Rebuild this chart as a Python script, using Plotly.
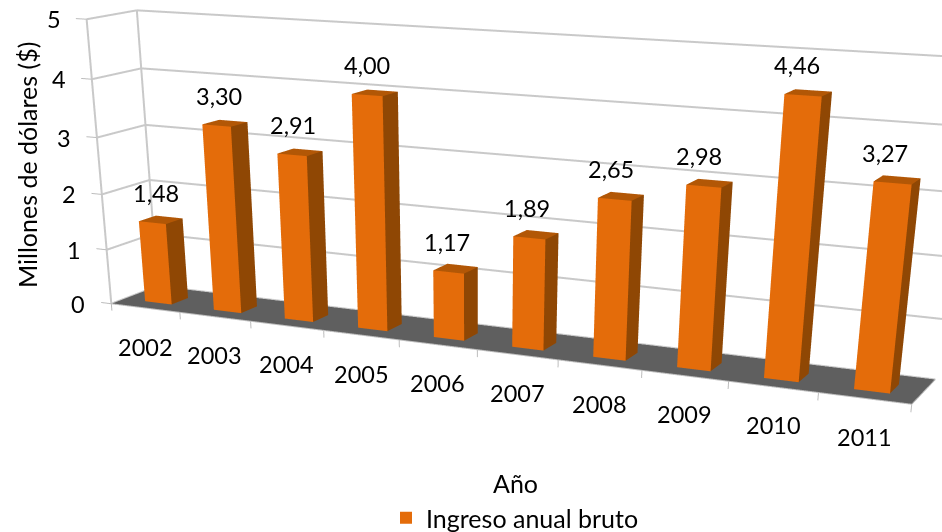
import plotly.graph_objects as go

years = ["2002", "2003", "2004", "2005", "2006", "2007", "2008", "2009", "2010", "2011"]
ingreso = [1.48, 3.30, 2.91, 4.00, 1.17, 1.89, 2.65, 2.98, 4.46, 3.27]
value_ticks = [0, 1, 2, 3, 4, 5]

FONT = "Lato"
NUM_SIZE = 23.5
WORD_SIZE = 25
TEXT = "#000000"
FRONT = "#E46C0A"
SIDE = "#8F4704"
TOP = "#B25706"
FLOOR = "#5F5F5F"
GRID = "#C9C9C9"

# The figure is taller than the window on purpose: plotly's field of view is fixed,
# so the flat perspective of the original needs a large viewport. Only the top shows.
FIG_W = 942
FIG_H = 1613
n = len(years)


def paper_y(px):
    return 1 - px / FIG_H


# bars as one mesh, only the three faces you can see
vx, vy, vz, ti, tj, tk, colors = [], [], [], [], [], [], []


def add_quad(corners, color):
    start = len(vx)
    for cx, cy, cz in corners:
        vx.append(cx)
        vy.append(cy)
        vz.append(cz)
    ti.extend([start, start])
    tj.extend([start + 1, start + 2])
    tk.extend([start + 2, start + 3])
    colors.extend([color, color])


for pos, val in enumerate(ingreso):
    x0, x1 = pos + 0.305, pos + 0.695
    y0, y1 = 0.28, 0.64
    add_quad([(x0, y0, 0), (x1, y0, 0), (x1, y0, val), (x0, y0, val)], FRONT)
    add_quad([(x1, y0, 0), (x1, y1, 0), (x1, y1, val), (x1, y0, val)], SIDE)
    add_quad([(x0, y0, val), (x1, y0, val), (x1, y1, val), (x0, y1, val)], TOP)

flat = dict(ambient=1, diffuse=0, specular=0, roughness=1, fresnel=0)

fig = go.Figure()

# floor
fig.add_trace(go.Mesh3d(
    x=[0, n, n, 0], y=[0, 0, 1, 1], z=[0, 0, 0, 0],
    i=[0, 0], j=[1, 2], k=[2, 3],
    color=FLOOR, flatshading=True, lighting=flat, hoverinfo="skip", showlegend=False,
))

# walls: gridlines around the left and back side
gx, gy, gz = [], [], []
for v in value_ticks:
    gx += [0, 0, n, None]
    gy += [0, 1, 1, None]
    gz += [v, v, v, None]
gx += [0, 0, None, 0, 0, None]
gy += [0, 0, None, 1, 1, None]
gz += [0, 5, None, 0, 5, None]
fig.add_trace(go.Scatter3d(
    x=gx, y=gy, z=gz, mode="lines", line=dict(color=GRID, width=4),
    hoverinfo="skip", showlegend=False, connectgaps=False,
))

# tick marks and the pale rim of the floor
kx, ky, kz = [], [], []
for pos in range(n + 1):
    kx += [pos, pos, None]
    ky += [0, 0, None]
    kz += [0, -0.13, None]
for v in value_ticks:
    kx += [0, -0.15, None]
    ky += [0, 0, None]
    kz += [v, v, None]
kx += [0, n, n]
ky += [0, 0, 1]
kz += [0, 0, 0]
fig.add_trace(go.Scatter3d(
    x=kx, y=ky, z=kz, mode="lines", line=dict(color="#BDBDBD", width=2),
    hoverinfo="skip", showlegend=False,
))

fig.add_trace(go.Mesh3d(
    x=vx, y=vy, z=vz, i=ti, j=tj, k=tk, facecolor=colors,
    flatshading=True, lighting=flat, hoverinfo="skip", showlegend=False,
))

# legend entry only
fig.add_trace(go.Scatter3d(
    x=[None], y=[None], z=[None], mode="markers", name="Ingreso anual bruto",
    marker=dict(symbol="square", size=13, color=FRONT), showlegend=True,
))

num_font = dict(family=FONT, size=NUM_SIZE, color=TEXT)
word_font = dict(family=FONT, size=WORD_SIZE, color=TEXT)
scene_notes = []
for pos, val in enumerate(ingreso):
    # excel drifts its labels left of the bars towards the near end
    scene_notes.append(dict(
        x=pos + 0.5, y=0.28, z=val, text=f"{val:.2f}".replace(".", ","),
        showarrow=False, yshift=30, xshift=4 - 1.3 * pos, font=num_font,
    ))
    scene_notes.append(dict(
        x=pos + 0.5, y=0, z=0, text=years[pos],
        showarrow=False, yshift=-38.5, font=num_font,
    ))
for v in value_ticks:
    scene_notes.append(dict(
        x=0, y=0, z=v, text=str(v),
        showarrow=False, xshift=-33, font=num_font,
    ))

hidden = dict(visible=False, showgrid=False, zeroline=False, showticklabels=False,
              showspikes=False, autorange=False)

fig.update_layout(
    width=FIG_W,
    height=FIG_H,
    margin=dict(l=0, r=0, t=0, b=0),
    paper_bgcolor="white",
    font=word_font,
    showlegend=True,
    legend=dict(x=386 / FIG_W, y=paper_y(518), xanchor="left", yanchor="middle",
                bgcolor="rgba(0,0,0,0)", font=word_font, itemsizing="constant"),
    scene=dict(
        domain=dict(x=[0, 1], y=[0, 1]),
        bgcolor="white",
        xaxis=dict(range=[-0.2, 10.2], **hidden),
        yaxis=dict(range=[0, 1], **hidden),
        zaxis=dict(range=[-0.2, 5.2], **hidden),
        aspectmode="manual",
        aspectratio=dict(x=3.0513, y=0.301, z=1.03846),
        camera=dict(
            eye=dict(x=2.7508, y=-5.9882, z=1.2395),
            center=dict(x=0.4996, y=-1.2512, z=-1.5644),
            up=dict(x=0, y=0, z=1),
        ),
        annotations=scene_notes,
    ),
    annotations=[
        dict(x=515 / FIG_W, y=paper_y(483), xref="paper", yref="paper", text="Año",
             xanchor="center", yanchor="middle", showarrow=False, font=word_font),
        dict(x=27 / FIG_W, y=paper_y(165), xref="paper", yref="paper", text="Millones de dólares ($)",
             xanchor="center", yanchor="middle", textangle=-90, showarrow=False, font=word_font),
    ],
)

fig.write_html(
    "out.html",
    config=dict(displayModeBar=False),
    post_script="document.body.style.margin='0';document.body.style.overflow='hidden';"
                "document.documentElement.style.overflow='hidden';",
)
